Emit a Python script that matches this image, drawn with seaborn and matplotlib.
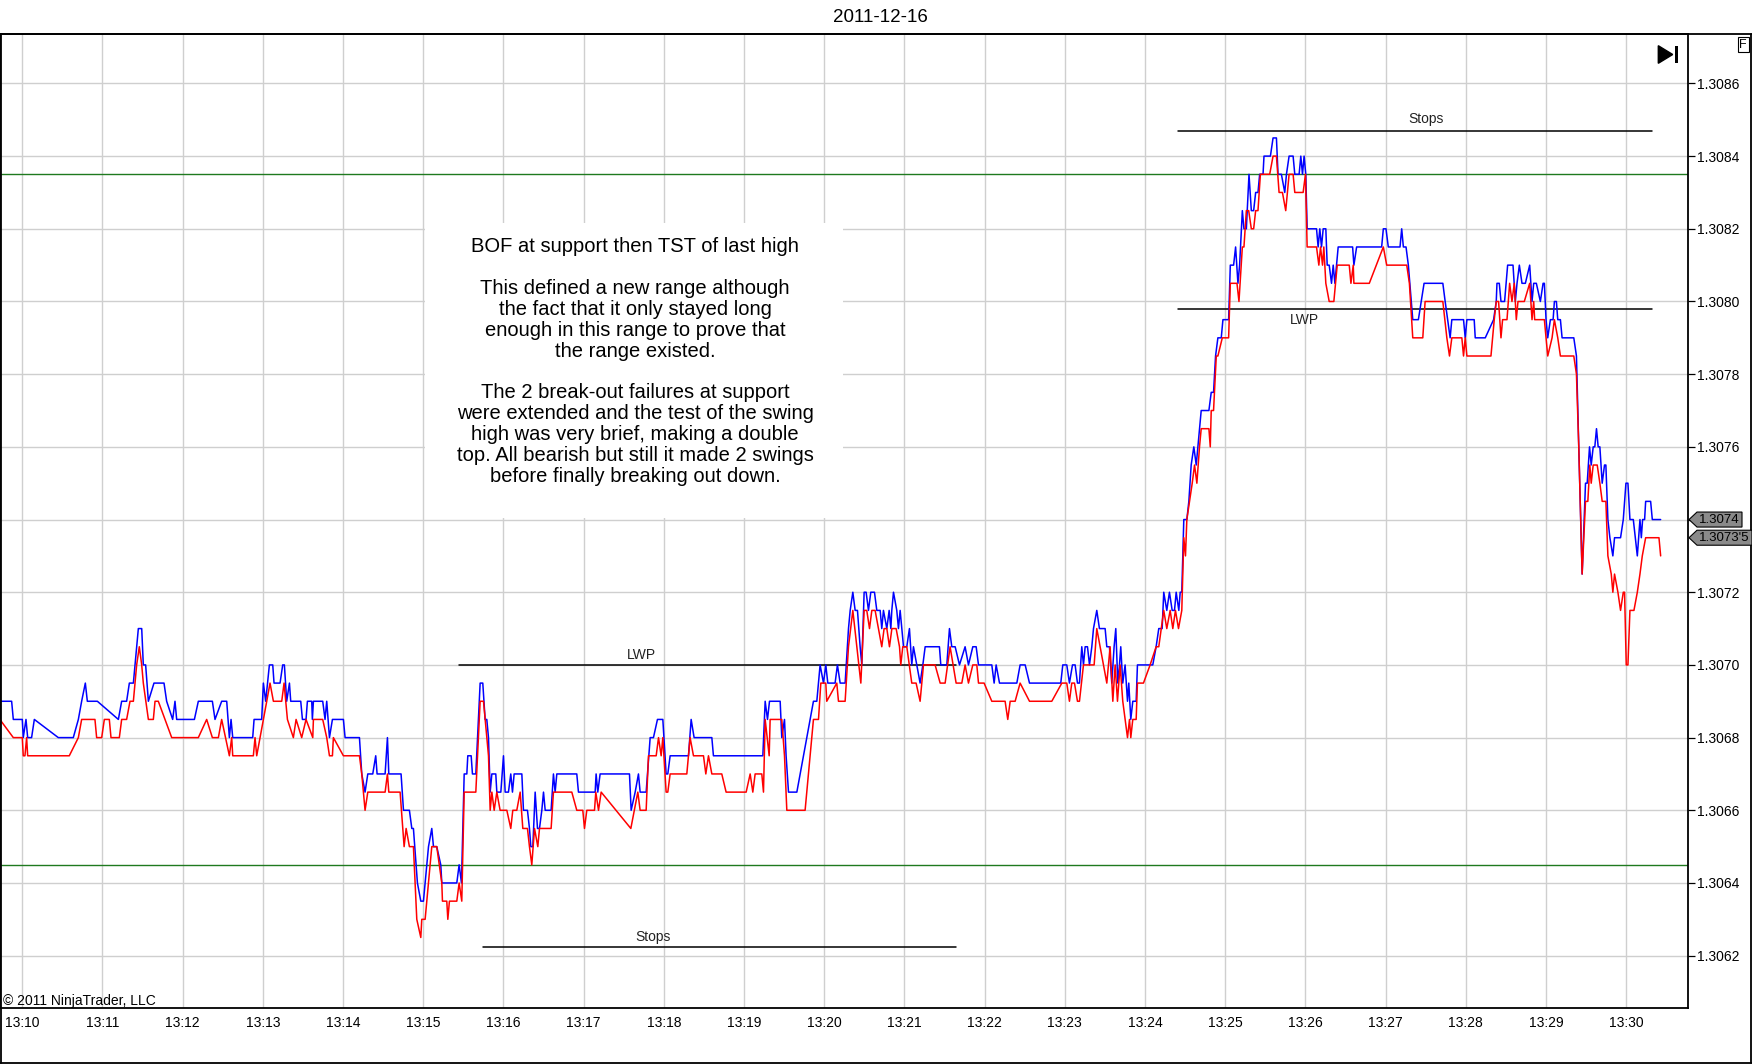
import matplotlib
matplotlib.use("Agg")
import matplotlib.pyplot as plt
from matplotlib import font_manager
from matplotlib.lines import Line2D
from matplotlib.patches import Rectangle, Polygon
import pandas as pd
import seaborn as sns

# (minutes after 13:10, price)
blue_ticks = [
    (-0.28, 1.30690), (-0.133, 1.30690), (-0.112, 1.30685), (0.000, 1.30685), (0.012, 1.30680),
    (0.046, 1.30685), (0.067, 1.30680), (0.116, 1.30680), (0.150, 1.30685), (0.449, 1.30680),
    (0.636, 1.30680), (0.699, 1.30685), (0.740, 1.30690), (0.786, 1.30695), (0.811, 1.30690),
    (0.936, 1.30690), (1.198, 1.30685), (1.239, 1.30690), (1.301, 1.30690), (1.335, 1.30695),
    (1.385, 1.30695), (1.426, 1.30705), (1.447, 1.30710), (1.489, 1.30710), (1.509, 1.30700),
    (1.538, 1.30700), (1.572, 1.30690), (1.642, 1.30695), (1.767, 1.30695), (1.800, 1.30690),
    (1.875, 1.30685), (1.904, 1.30690), (1.925, 1.30685), (2.146, 1.30685), (2.195, 1.30690),
    (2.370, 1.30690), (2.403, 1.30685), (2.486, 1.30690), (2.549, 1.30690), (2.582, 1.30680),
    (2.603, 1.30685), (2.624, 1.30680), (2.873, 1.30680), (2.890, 1.30685), (2.985, 1.30685),
    (3.006, 1.30695), (3.035, 1.30690), (3.081, 1.30700), (3.123, 1.30700), (3.139, 1.30695),
    (3.214, 1.30695), (3.247, 1.30700), (3.268, 1.30700), (3.297, 1.30690), (3.331, 1.30695),
    (3.347, 1.30690), (3.472, 1.30690), (3.493, 1.30685), (3.538, 1.30685), (3.555, 1.30690),
    (3.609, 1.30690), (3.617, 1.30685), (3.630, 1.30690), (3.746, 1.30690), (3.775, 1.30685),
    (3.796, 1.30690), (3.830, 1.30680), (3.867, 1.30685), (4.004, 1.30685), (4.025, 1.30680),
    (4.204, 1.30680), (4.233, 1.30670), (4.274, 1.30665), (4.308, 1.30670), (4.370, 1.30670),
    (4.407, 1.30675), (4.424, 1.30670), (4.524, 1.30670), (4.553, 1.30680), (4.570, 1.30670),
    (4.723, 1.30670), (4.753, 1.30660), (4.827, 1.30660), (4.857, 1.30655), (4.877, 1.30655),
    (4.927, 1.30640), (4.969, 1.30635), (5.002, 1.30635), (5.023, 1.30640), (5.065, 1.30650),
    (5.106, 1.30655), (5.127, 1.30650), (5.168, 1.30650), (5.218, 1.30645), (5.231, 1.30640),
    (5.418, 1.30640), (5.447, 1.30645), (5.476, 1.30640), (5.510, 1.30670), (5.543, 1.30670),
    (5.555, 1.30675), (5.597, 1.30675), (5.613, 1.30670), (5.655, 1.30670), (5.709, 1.30695),
    (5.742, 1.30695), (5.771, 1.30685), (5.792, 1.30685), (5.813, 1.30680), (5.834, 1.30665),
    (5.855, 1.30670), (5.904, 1.30670), (5.917, 1.30665), (5.967, 1.30665), (6.000, 1.30675),
    (6.021, 1.30665), (6.062, 1.30665), (6.091, 1.30670), (6.112, 1.30665), (6.133, 1.30670),
    (6.229, 1.30670), (6.249, 1.30660), (6.299, 1.30660), (6.324, 1.30655), (6.341, 1.30650),
    (6.366, 1.30650), (6.395, 1.30665), (6.424, 1.30655), (6.449, 1.30655), (6.478, 1.30660),
    (6.499, 1.30665), (6.520, 1.30660), (6.594, 1.30660), (6.623, 1.30670), (6.644, 1.30665),
    (6.665, 1.30670), (6.914, 1.30670), (6.935, 1.30665), (7.143, 1.30665), (7.155, 1.30670),
    (7.176, 1.30665), (7.205, 1.30670), (7.571, 1.30670), (7.592, 1.30660), (7.642, 1.30665),
    (7.683, 1.30670), (7.704, 1.30665), (7.779, 1.30665), (7.829, 1.30680), (7.870, 1.30680),
    (7.920, 1.30685), (7.987, 1.30685), (8.028, 1.30670), (8.049, 1.30670), (8.078, 1.30675),
    (8.307, 1.30675), (8.340, 1.30685), (8.377, 1.30680), (8.598, 1.30680), (8.618, 1.30675),
    (9.234, 1.30675), (9.263, 1.30690), (9.292, 1.30685), (9.317, 1.30690), (9.450, 1.30690),
    (9.470, 1.30680), (9.504, 1.30685), (9.524, 1.30675), (9.554, 1.30665), (9.658, 1.30665),
    (9.865, 1.30690), (9.907, 1.30690), (9.948, 1.30700), (9.990, 1.30695), (10.019, 1.30700),
    (10.044, 1.30695), (10.135, 1.30695), (10.164, 1.30700), (10.198, 1.30695), (10.260, 1.30695),
    (10.302, 1.30710), (10.323, 1.30715), (10.356, 1.30720), (10.385, 1.30715), (10.414, 1.30715),
    (10.447, 1.30705), (10.468, 1.30700), (10.497, 1.30720), (10.522, 1.30720), (10.551, 1.30715),
    (10.580, 1.30720), (10.626, 1.30720), (10.655, 1.30715), (10.697, 1.30715), (10.717, 1.30710),
    (10.738, 1.30715), (10.780, 1.30710), (10.809, 1.30715), (10.830, 1.30710), (10.842, 1.30715),
    (10.863, 1.30720), (10.904, 1.30715), (10.925, 1.30710), (10.946, 1.30715), (10.967, 1.30710),
    (10.988, 1.30705), (11.029, 1.30705), (11.062, 1.30710), (11.091, 1.30700), (11.112, 1.30705),
    (11.154, 1.30700), (11.195, 1.30695), (11.229, 1.30700), (11.258, 1.30705), (11.436, 1.30705),
    (11.453, 1.30700), (11.528, 1.30700), (11.561, 1.30710), (11.590, 1.30705), (11.632, 1.30705),
    (11.686, 1.30700), (11.756, 1.30705), (11.798, 1.30700), (11.852, 1.30705), (11.894, 1.30705),
    (11.923, 1.30700), (12.089, 1.30700), (12.118, 1.30695), (12.143, 1.30700), (12.185, 1.30695),
    (12.401, 1.30695), (12.442, 1.30700), (12.505, 1.30700), (12.559, 1.30695), (12.949, 1.30695),
    (12.974, 1.30700), (13.024, 1.30700), (13.057, 1.30695), (13.095, 1.30700), (13.128, 1.30700),
    (13.157, 1.30695), (13.182, 1.30695), (13.211, 1.30705), (13.232, 1.30700), (13.253, 1.30705),
    (13.282, 1.30705), (13.307, 1.30700), (13.336, 1.30705), (13.357, 1.30710), (13.398, 1.30715),
    (13.431, 1.30710), (13.502, 1.30710), (13.523, 1.30705), (13.556, 1.30705), (13.585, 1.30695),
    (13.614, 1.30705), (13.635, 1.30710), (13.660, 1.30695), (13.681, 1.30700), (13.697, 1.30705),
    (13.722, 1.30695), (13.751, 1.30700), (13.781, 1.30690), (13.797, 1.30695), (13.822, 1.30685),
    (13.847, 1.30690), (13.889, 1.30690), (13.905, 1.30700), (14.096, 1.30700), (14.138, 1.30705),
    (14.171, 1.30710), (14.213, 1.30710), (14.233, 1.30720), (14.271, 1.30715), (14.304, 1.30720),
    (14.338, 1.30715), (14.367, 1.30715), (14.388, 1.30720), (14.421, 1.30715), (14.438, 1.30720),
    (14.458, 1.30720), (14.483, 1.30740), (14.521, 1.30740), (14.546, 1.30745), (14.575, 1.30755),
    (14.608, 1.30760), (14.638, 1.30755), (14.679, 1.30765), (14.700, 1.30770), (14.796, 1.30770),
    (14.825, 1.30775), (14.854, 1.30775), (14.879, 1.30785), (14.908, 1.30790), (14.950, 1.30790),
    (14.971, 1.30795), (15.042, 1.30795), (15.063, 1.30810), (15.104, 1.30810), (15.129, 1.30815),
    (15.158, 1.30805), (15.179, 1.30810), (15.213, 1.30825), (15.233, 1.30820), (15.263, 1.30820),
    (15.296, 1.30835), (15.325, 1.30825), (15.354, 1.30825), (15.379, 1.30830), (15.408, 1.30830),
    (15.429, 1.30835), (15.471, 1.30835), (15.483, 1.30840), (15.563, 1.30840), (15.596, 1.30845),
    (15.638, 1.30845), (15.658, 1.30835), (15.700, 1.30835), (15.742, 1.30830), (15.763, 1.30835),
    (15.796, 1.30840), (15.846, 1.30840), (15.867, 1.30835), (15.921, 1.30835), (15.942, 1.30840),
    (15.963, 1.30835), (15.983, 1.30840), (16.004, 1.30835), (16.021, 1.30820), (16.138, 1.30820),
    (16.158, 1.30815), (16.179, 1.30820), (16.200, 1.30815), (16.221, 1.30820), (16.254, 1.30820),
    (16.271, 1.30810), (16.296, 1.30810), (16.325, 1.30805), (16.346, 1.30810), (16.367, 1.30805),
    (16.408, 1.30815), (16.588, 1.30815), (16.604, 1.30810), (16.638, 1.30815), (16.950, 1.30815),
    (16.971, 1.30820), (17.004, 1.30820), (17.033, 1.30815), (17.179, 1.30815), (17.200, 1.30820),
    (17.221, 1.30815), (17.254, 1.30815), (17.283, 1.30810), (17.338, 1.30795), (17.408, 1.30795),
    (17.479, 1.30805), (17.713, 1.30805), (17.742, 1.30800), (17.804, 1.30790), (17.825, 1.30795),
    (17.971, 1.30795), (17.992, 1.30790), (18.013, 1.30795), (18.104, 1.30795), (18.117, 1.30790),
    (18.242, 1.30790), (18.346, 1.30795), (18.379, 1.30800), (18.388, 1.30805), (18.417, 1.30805),
    (18.438, 1.30800), (18.483, 1.30800), (18.521, 1.30810), (18.588, 1.30810), (18.617, 1.30800),
    (18.638, 1.30805), (18.667, 1.30810), (18.700, 1.30805), (18.742, 1.30805), (18.796, 1.30810),
    (18.825, 1.30800), (18.846, 1.30805), (18.879, 1.30805), (18.929, 1.30800), (18.963, 1.30805),
    (18.979, 1.30805), (19.000, 1.30795), (19.021, 1.30790), (19.054, 1.30795), (19.088, 1.30795),
    (19.104, 1.30800), (19.129, 1.30800), (19.146, 1.30795), (19.179, 1.30795), (19.200, 1.30790),
    (19.346, 1.30790), (19.379, 1.30785), (19.408, 1.30760), (19.450, 1.30725), (19.492, 1.30750),
    (19.513, 1.30750), (19.542, 1.30760), (19.563, 1.30755), (19.588, 1.30760), (19.608, 1.30760),
    (19.629, 1.30765), (19.650, 1.30760), (19.671, 1.30760), (19.700, 1.30750), (19.729, 1.30755),
    (19.746, 1.30755), (19.771, 1.30740), (19.796, 1.30735), (19.833, 1.30730), (19.854, 1.30735),
    (19.929, 1.30735), (19.963, 1.30740), (19.996, 1.30750), (20.021, 1.30750), (20.046, 1.30740),
    (20.088, 1.30740), (20.138, 1.30730), (20.171, 1.30740), (20.188, 1.30735), (20.204, 1.30740),
    (20.229, 1.30740), (20.242, 1.30745), (20.304, 1.30745), (20.325, 1.30740), (20.429, 1.30740),
]

red_ticks = [
    (-0.28, 1.30685), (-0.112, 1.30680), (0.000, 1.30680), (0.012, 1.30675), (0.033, 1.30675),
    (0.054, 1.30680), (0.067, 1.30675), (0.586, 1.30675), (0.699, 1.30680), (0.740, 1.30685),
    (0.906, 1.30685), (0.927, 1.30680), (0.990, 1.30680), (1.023, 1.30685), (1.085, 1.30685),
    (1.106, 1.30680), (1.210, 1.30680), (1.239, 1.30685), (1.301, 1.30685), (1.343, 1.30690),
    (1.385, 1.30690), (1.426, 1.30700), (1.459, 1.30705), (1.489, 1.30700), (1.509, 1.30695),
    (1.572, 1.30685), (1.634, 1.30685), (1.655, 1.30690), (1.696, 1.30690), (1.863, 1.30680),
    (2.195, 1.30680), (2.299, 1.30685), (2.370, 1.30680), (2.445, 1.30680), (2.486, 1.30685),
    (2.582, 1.30675), (2.611, 1.30680), (2.624, 1.30675), (2.881, 1.30675), (2.902, 1.30680),
    (2.923, 1.30675), (2.965, 1.30680), (3.006, 1.30685), (3.048, 1.30690), (3.089, 1.30695),
    (3.131, 1.30690), (3.235, 1.30690), (3.264, 1.30695), (3.306, 1.30685), (3.380, 1.30680),
    (3.414, 1.30685), (3.484, 1.30680), (3.538, 1.30685), (3.622, 1.30680), (3.630, 1.30685),
    (3.746, 1.30685), (3.796, 1.30680), (3.830, 1.30675), (3.867, 1.30675), (3.879, 1.30680),
    (4.004, 1.30675), (4.204, 1.30675), (4.233, 1.30670), (4.274, 1.30660), (4.308, 1.30665),
    (4.524, 1.30665), (4.553, 1.30670), (4.570, 1.30665), (4.711, 1.30665), (4.761, 1.30650),
    (4.786, 1.30655), (4.827, 1.30650), (4.877, 1.30650), (4.919, 1.30630), (4.969, 1.30625),
    (4.981, 1.30630), (5.023, 1.30630), (5.065, 1.30640), (5.106, 1.30650), (5.168, 1.30650),
    (5.231, 1.30640), (5.239, 1.30635), (5.293, 1.30635), (5.306, 1.30630), (5.326, 1.30635),
    (5.418, 1.30635), (5.447, 1.30640), (5.480, 1.30635), (5.510, 1.30665), (5.655, 1.30665),
    (5.709, 1.30690), (5.751, 1.30690), (5.792, 1.30680), (5.813, 1.30675), (5.834, 1.30660),
    (5.855, 1.30665), (5.884, 1.30660), (5.917, 1.30665), (5.958, 1.30660), (6.042, 1.30660),
    (6.091, 1.30655), (6.116, 1.30660), (6.166, 1.30660), (6.208, 1.30665), (6.241, 1.30655),
    (6.299, 1.30655), (6.324, 1.30650), (6.353, 1.30645), (6.387, 1.30655), (6.428, 1.30650),
    (6.449, 1.30655), (6.594, 1.30655), (6.623, 1.30665), (6.852, 1.30665), (6.914, 1.30660),
    (6.989, 1.30660), (7.010, 1.30655), (7.039, 1.30660), (7.135, 1.30660), (7.151, 1.30665),
    (7.185, 1.30660), (7.218, 1.30665), (7.588, 1.30655), (7.675, 1.30665), (7.704, 1.30660),
    (7.779, 1.30660), (7.808, 1.30675), (7.904, 1.30675), (7.933, 1.30680), (7.966, 1.30675),
    (7.987, 1.30680), (8.028, 1.30665), (8.049, 1.30665), (8.078, 1.30670), (8.286, 1.30670),
    (8.327, 1.30680), (8.369, 1.30675), (8.494, 1.30675), (8.523, 1.30670), (8.556, 1.30675),
    (8.598, 1.30670), (8.722, 1.30670), (8.776, 1.30665), (9.026, 1.30665), (9.076, 1.30670),
    (9.109, 1.30665), (9.138, 1.30670), (9.221, 1.30670), (9.242, 1.30665), (9.263, 1.30685),
    (9.313, 1.30675), (9.325, 1.30685), (9.470, 1.30685), (9.504, 1.30675), (9.533, 1.30660),
    (9.761, 1.30660), (9.865, 1.30685), (9.928, 1.30685), (9.957, 1.30695), (10.019, 1.30695),
    (10.031, 1.30690), (10.156, 1.30695), (10.177, 1.30690), (10.260, 1.30690), (10.302, 1.30705),
    (10.356, 1.30715), (10.406, 1.30705), (10.456, 1.30695), (10.497, 1.30715), (10.530, 1.30715),
    (10.564, 1.30710), (10.593, 1.30715), (10.634, 1.30715), (10.676, 1.30710), (10.717, 1.30705),
    (10.746, 1.30710), (10.780, 1.30710), (10.813, 1.30705), (10.843, 1.30710), (10.896, 1.30710),
    (10.938, 1.30705), (10.954, 1.30700), (10.979, 1.30705), (11.029, 1.30705), (11.091, 1.30695),
    (11.145, 1.30695), (11.195, 1.30690), (11.237, 1.30700), (11.382, 1.30700), (11.445, 1.30695),
    (11.507, 1.30695), (11.569, 1.30705), (11.644, 1.30695), (11.715, 1.30695), (11.756, 1.30700),
    (11.798, 1.30695), (11.852, 1.30700), (11.902, 1.30700), (11.923, 1.30695), (11.993, 1.30695),
    (12.089, 1.30690), (12.255, 1.30690), (12.288, 1.30685), (12.318, 1.30690), (12.380, 1.30690),
    (12.442, 1.30695), (12.559, 1.30690), (12.837, 1.30690), (12.962, 1.30695), (13.024, 1.30695),
    (13.057, 1.30690), (13.086, 1.30695), (13.120, 1.30695), (13.157, 1.30690), (13.182, 1.30690),
    (13.232, 1.30700), (13.365, 1.30700), (13.398, 1.30710), (13.523, 1.30695), (13.564, 1.30705),
    (13.598, 1.30690), (13.627, 1.30700), (13.656, 1.30690), (13.689, 1.30700), (13.722, 1.30690),
    (13.781, 1.30680), (13.806, 1.30685), (13.822, 1.30680), (13.847, 1.30685), (13.889, 1.30685),
    (13.905, 1.30695), (13.980, 1.30695), (14.063, 1.30700), (14.138, 1.30705), (14.171, 1.30705),
    (14.233, 1.30715), (14.271, 1.30710), (14.313, 1.30715), (14.346, 1.30710), (14.379, 1.30715),
    (14.417, 1.30710), (14.458, 1.30715), (14.483, 1.30735), (14.504, 1.30730), (14.521, 1.30740),
    (14.554, 1.30745), (14.588, 1.30750), (14.617, 1.30755), (14.646, 1.30750), (14.679, 1.30760),
    (14.700, 1.30765), (14.796, 1.30765), (14.813, 1.30760), (14.825, 1.30770), (14.854, 1.30770),
    (14.888, 1.30785), (14.908, 1.30785), (14.963, 1.30790), (15.042, 1.30790), (15.063, 1.30805),
    (15.146, 1.30805), (15.171, 1.30800), (15.213, 1.30815), (15.233, 1.30815), (15.263, 1.30825),
    (15.292, 1.30825), (15.325, 1.30820), (15.354, 1.30820), (15.379, 1.30825), (15.408, 1.30825),
    (15.438, 1.30835), (15.554, 1.30835), (15.596, 1.30840), (15.638, 1.30840), (15.671, 1.30830),
    (15.713, 1.30830), (15.754, 1.30825), (15.796, 1.30835), (15.846, 1.30835), (15.867, 1.30830),
    (15.971, 1.30830), (16.000, 1.30835), (16.021, 1.30815), (16.138, 1.30815), (16.167, 1.30810),
    (16.188, 1.30815), (16.213, 1.30810), (16.229, 1.30815), (16.254, 1.30805), (16.296, 1.30800),
    (16.354, 1.30800), (16.396, 1.30810), (16.546, 1.30810), (16.567, 1.30805), (16.596, 1.30810),
    (16.604, 1.30805), (16.796, 1.30805), (16.971, 1.30815), (17.013, 1.30810), (17.263, 1.30810),
    (17.296, 1.30805), (17.338, 1.30790), (17.463, 1.30790), (17.492, 1.30800), (17.713, 1.30800),
    (17.763, 1.30790), (17.796, 1.30785), (17.825, 1.30790), (17.950, 1.30790), (17.971, 1.30785),
    (17.992, 1.30790), (18.013, 1.30785), (18.313, 1.30785), (18.354, 1.30795), (18.379, 1.30800),
    (18.408, 1.30800), (18.438, 1.30790), (18.458, 1.30795), (18.513, 1.30795), (18.546, 1.30805),
    (18.575, 1.30800), (18.604, 1.30805), (18.629, 1.30795), (18.650, 1.30800), (18.729, 1.30800),
    (18.796, 1.30805), (18.825, 1.30795), (18.846, 1.30800), (18.858, 1.30795), (18.979, 1.30795),
    (19.021, 1.30785), (19.075, 1.30790), (19.104, 1.30795), (19.146, 1.30790), (19.179, 1.30785),
    (19.346, 1.30785), (19.379, 1.30780), (19.408, 1.30760), (19.450, 1.30725), (19.492, 1.30745),
    (19.521, 1.30745), (19.546, 1.30755), (19.563, 1.30750), (19.588, 1.30755), (19.638, 1.30755),
    (19.671, 1.30750), (19.700, 1.30745), (19.746, 1.30745), (19.771, 1.30730), (19.813, 1.30725),
    (19.833, 1.30720), (19.854, 1.30725), (19.896, 1.30720), (19.929, 1.30715), (19.963, 1.30720),
    (19.979, 1.30720), (20.000, 1.30700), (20.021, 1.30700), (20.046, 1.30715), (20.096, 1.30715),
    (20.138, 1.30720), (20.171, 1.30725), (20.200, 1.30730), (20.242, 1.30735), (20.408, 1.30735),
    (20.429, 1.30730),
]

time_labels = ["13:10", "13:11", "13:12", "13:13", "13:14", "13:15", "13:16", "13:17",
               "13:18", "13:19", "13:20", "13:21", "13:22", "13:23", "13:24", "13:25",
               "13:26", "13:27", "13:28", "13:29", "13:30"]
price_ticks = [1.3062, 1.3064, 1.3066, 1.3068, 1.3070, 1.3072, 1.3074,
               1.3076, 1.3078, 1.3080, 1.3082, 1.3084, 1.3086]
price_labels = ["1.3062", "1.3064", "1.3066", "1.3068", "1.3070", "1.3072", "1.3074",
                "1.3076", "1.3078", "1.3080", "1.3082", "1.3084", "1.3086"]

range_lines = [1.30835, 1.30645]   # green support / resistance
# label, price, start, end (minutes), label x, text above (+) or below (-)
marks = [
    ("Stops", 1.30847, 14.41, 20.32, 17.50, 8.5),
    ("LWP", 1.30798, 14.41, 20.32, 15.99, -8.3),
    ("LWP", 1.30700, 5.45, 11.64, 7.72, 7.0),
    ("Stops", 1.306225, 5.74, 11.64, 7.87, 7.2),
]
# last price, label, right edge of the flag (px)
last_prices = [(1.30740, "1.3074", 1742), (1.30735, "1.3073'5", 1752)]

note = ("BOF at support then TST of last high\n\n"
        "This defined a new range although\n"
        "the fact that it only stayed long\n"
        "enough in this range to prove that\n"
        "the range existed.\n\n"
        "The 2 break-out failures at support\n"
        "were extended and the test of the swing\n"
        "high was very brief, making a double\n"
        "top. All bearish but still it made 2 swings\n"
        "before finally breaking out down.")

sns.set_style("white")
plt.rcParams["font.family"] = ["Liberation Sans", "DejaVu Sans"]
names = {f.name for f in font_manager.fontManager.ttflist}
narrow = "Liberation Sans Narrow" if "Liberation Sans Narrow" in names else "Liberation Sans"
tick_size = 11.5 if narrow == "Liberation Sans Narrow" else 10

W, H = 1752, 1064
fig = plt.figure(figsize=(W / 100, H / 100), dpi=100)
ax = fig.add_axes([0, 1 - 1008 / H, 1688 / W, 974 / H])

blue = pd.DataFrame(blue_ticks, columns=["minute", "price"])
red = pd.DataFrame(red_ticks, columns=["minute", "price"])
sns.lineplot(data=blue, x="minute", y="price", color="#0000ff", lw=1.1,
             estimator=None, sort=False, legend=False, ax=ax, zorder=3)
sns.lineplot(data=red, x="minute", y="price", color="#ff0000", lw=1.1,
             estimator=None, sort=False, legend=False, ax=ax, zorder=4)

ax.set_xlim(-0.278, 20.77)
ax.set_ylim(1.306056, 1.308736)
ax.set_xticks(range(len(time_labels)))
ax.set_xticklabels(time_labels, family=narrow, fontsize=tick_size)
ax.set_yticks(price_ticks)
ax.set_yticklabels(price_labels, family=narrow, fontsize=tick_size)
ax.yaxis.tick_right()
ax.set_xlabel("")
ax.set_ylabel("")
ax.tick_params(axis="y", direction="out", length=4.8, width=0.9, pad=1.5, colors="black")
ax.tick_params(axis="x", direction="out", length=4, width=0.9, pad=2, colors="black")
ax.grid(True, color="#cfcfcf", lw=1.0)
ax.set_axisbelow(True)
for s in ax.spines.values():
    s.set_visible(True)
    s.set_color("black")
    s.set_linewidth(1.3)

for y in range_lines:
    ax.axhline(y, color="#1f7a1f", lw=1.0, zorder=2)

for label, y, x0, x1, xt, off in marks:
    ax.plot([x0, x1], [y, y], color="black", lw=1.1, zorder=2)
    ax.annotate(label, xy=(xt, y), xytext=(0, off), textcoords="offset points",
                ha="center", va="center", fontsize=10, color="#222222")

# note box hides the grid behind the text
ax.add_patch(Rectangle((425 / 1688, (1008 - 518) / 974), 418 / 1688, 295 / 974,
                       transform=ax.transAxes, fc="white", ec="none", zorder=1))
ax.text(635 / 1688, (1008 - 361.5) / 974, note, transform=ax.transAxes,
        ha="center", va="center", multialignment="center", fontsize=14.5,
        linespacing=1.13, color="black", zorder=5)

ax.text(3 / 1688, (1008 - 1000.7) / 974, "\u00a9 2011 NinjaTrader, LLC", transform=ax.transAxes,
        ha="left", va="center", fontsize=tick_size, family=narrow, color="black")

# grey price flags on the right axis, drawn in pixel space
for y, txt, right in last_prices:
    ypix = ax.transData.transform((0, y))[1]
    flag = Polygon([(1689, ypix), (1697, ypix + 7.5), (right, ypix + 7.5),
                    (right, ypix - 7.5), (1697, ypix - 7.5)], closed=True,
                   fc="#8a8a8a", ec="black", lw=0.8, transform=None, zorder=10)
    fig.add_artist(flag)
    fig.text(1699 / W, ypix / H, txt, ha="left", va="center", fontsize=tick_size - 0.5,
             family=narrow, color="black", zorder=11)

# frame, title and corner widgets
def fx(x):
    return x / W

def fy(y):
    return 1 - y / H

fig.add_artist(Line2D([0, 1], [fy(34), fy(34)], color="black", lw=1.3, transform=fig.transFigure))
fig.add_artist(Line2D([fx(0.7), fx(0.7)], [fy(34), fy(1063.3)], color="black", lw=1.3, transform=fig.transFigure))
fig.add_artist(Line2D([fx(1751.2), fx(1751.2)], [fy(34), fy(1063.3)], color="black", lw=1.3, transform=fig.transFigure))
fig.add_artist(Line2D([0, 1], [fy(1063.3), fy(1063.3)], color="black", lw=1.3, transform=fig.transFigure))

fig.text(fx(880), fy(17), "2011-12-16", ha="center", va="center", fontsize=13.5, color="black")
fig.text(fx(1743.2), fy(44.5), "F", ha="center", va="center", fontsize=9, color="black",
         bbox=dict(boxstyle="square,pad=0.12", fc="white", ec="black", lw=0.8))
fig.add_artist(Polygon([(fx(1658.3), fy(45.7)), (fx(1658.3), fy(63.3)), (fx(1672.7), fy(54.5))],
                       closed=True, fc="black", ec="black", transform=fig.transFigure))
fig.add_artist(Rectangle((fx(1674.5), fy(63.3)), fx(3.5), 17.6 / H, fc="black", ec="none",
                         transform=fig.transFigure))

fig.savefig("out.png", dpi=100, facecolor="white")
